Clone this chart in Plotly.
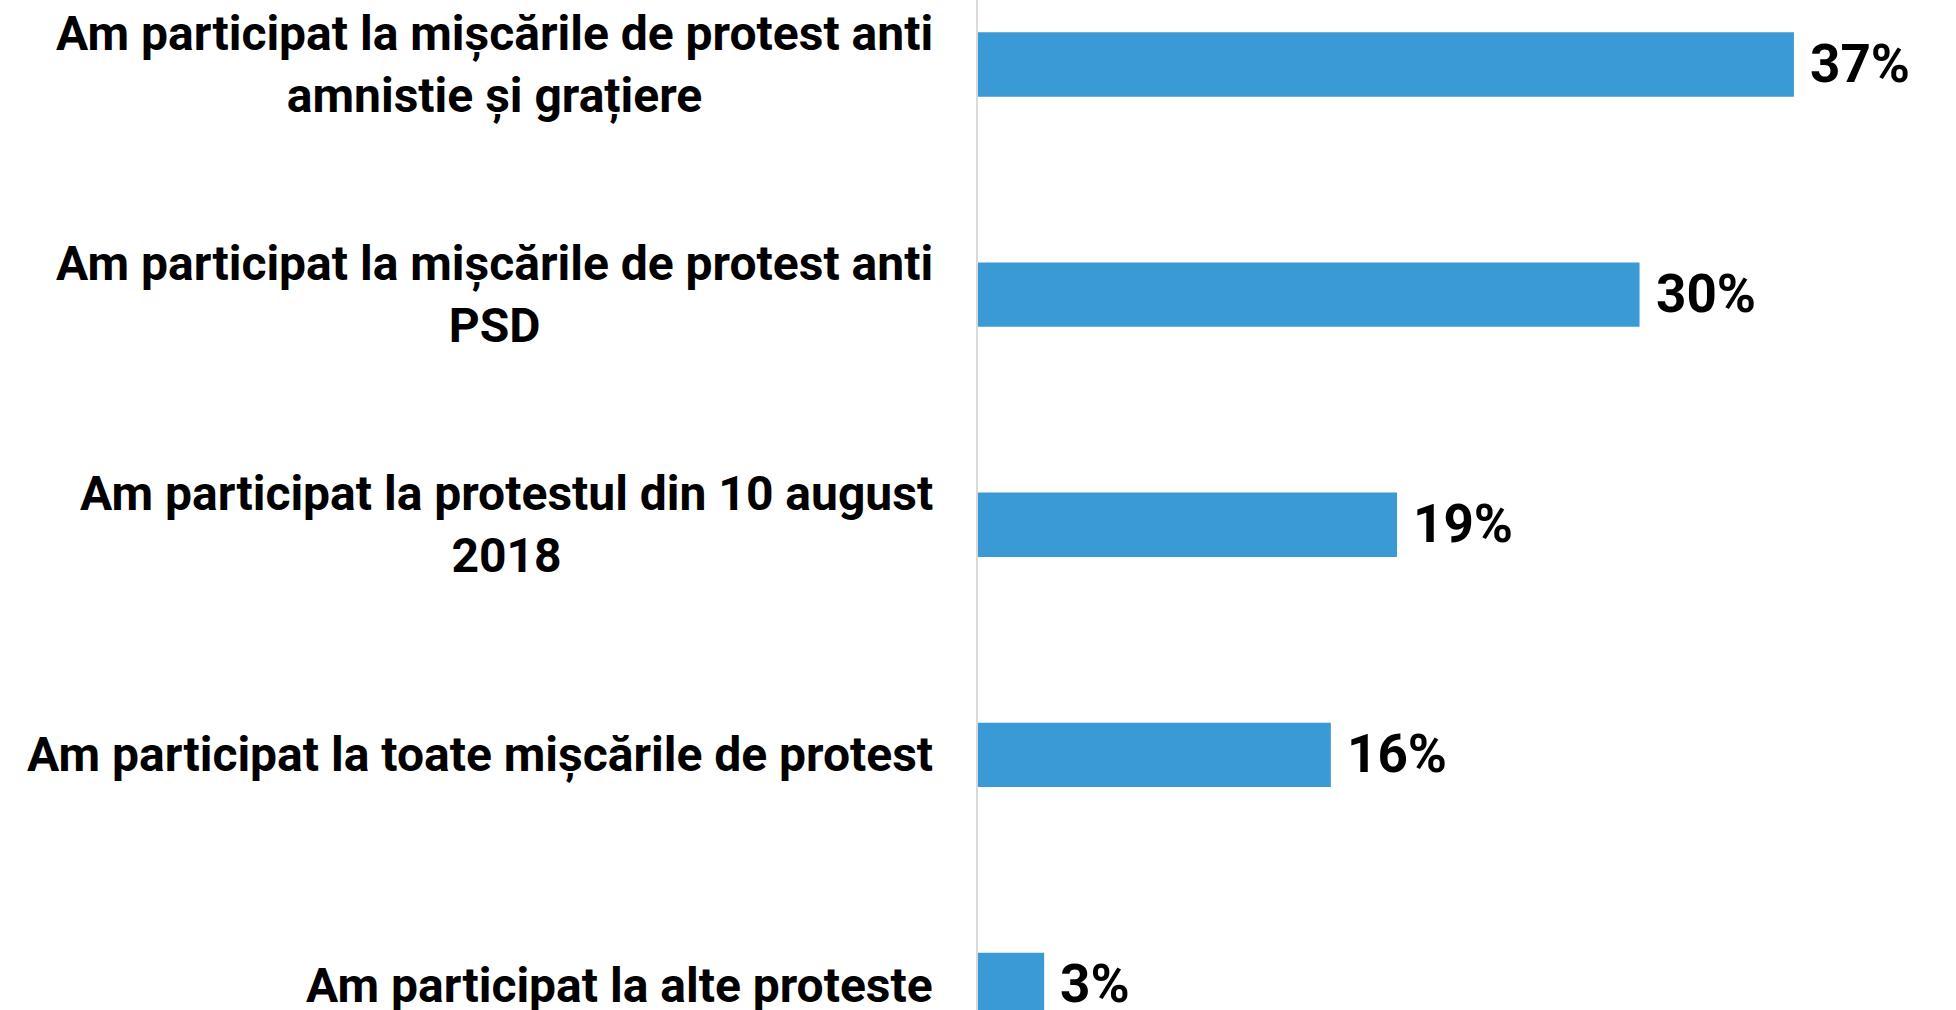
import plotly.graph_objects as go

categories = [
    "Am participat la mișcările de protest anti<br>amnistie și grațiere",
    "Am participat la mișcările de protest anti<br>PSD",
    "Am participat la protestul din 10 august<br>2018",
    "Am participat la toate mișcările de protest",
    "Am participat la alte proteste",
]
values = [37, 30, 19, 16, 3]
value_labels = [f"{v}%" for v in values]

BAR_COLOR = "#3A9AD5"
FONT = "Roboto"

fig = go.Figure()
fig.add_trace(go.Bar(
    x=values,
    y=list(range(len(categories))),
    orientation="h",
    width=0.28,
    marker=dict(color=BAR_COLOR, line=dict(width=0)),
    hoverinfo="skip",
))

annotations = []
for i, (cat, v, lab) in enumerate(zip(categories, values, value_labels)):
    annotations.append(dict(
        x=0, xref="paper", y=i, yref="y",
        text=cat, showarrow=False, xanchor="right", yanchor="middle",
        align="center", xshift=-43,
        font=dict(family=FONT, size=48, color="#000000", weight="bold"),
    ))
    annotations.append(dict(
        x=v, xref="x", y=i, yref="y",
        text=lab, showarrow=False, xanchor="left", yanchor="middle",
        xshift=14, yshift=1,
        font=dict(family=FONT, size=53, color="#000000", weight="bold"),
    ))

fig.update_layout(
    width=1956, height=1010,
    margin=dict(l=978, r=0, t=0, b=0),
    paper_bgcolor="white", plot_bgcolor="white",
    showlegend=False,
    annotations=annotations,
    xaxis=dict(range=[0, 44.35], showgrid=False, zeroline=False,
               showticklabels=False, showline=False, fixedrange=True),
    yaxis=dict(range=[4.1086, -0.2803], showgrid=False, zeroline=False,
               showticklabels=False, showline=True, linecolor="#d9d9d9",
               linewidth=1.5, fixedrange=True),
)

fig.write_html(
    "out.html",
    config={"displayModeBar": False},
    post_script="document.body.style.margin='0';document.body.style.overflow='hidden';",
)
